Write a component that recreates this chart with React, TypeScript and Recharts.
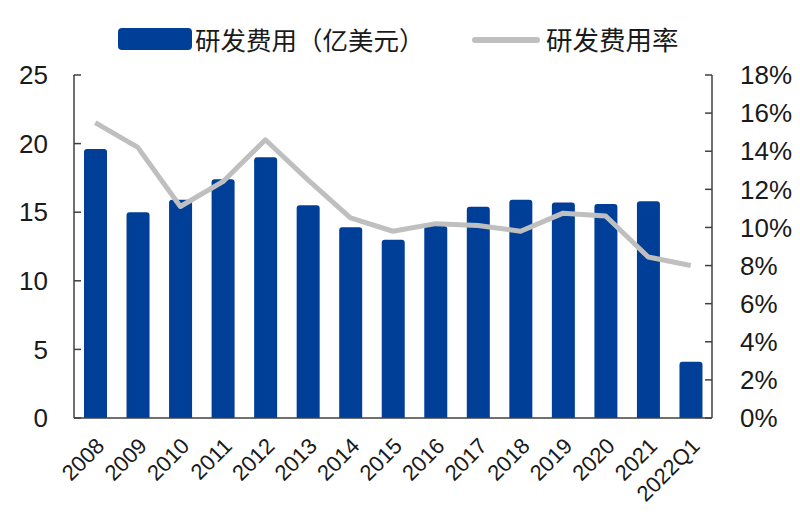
import React from 'react';
import { ComposedChart, Bar, Line, XAxis, YAxis } from 'recharts';

const categories = ['2008', '2009', '2010', '2011', '2012', '2013', '2014', '2015', '2016', '2017', '2018', '2019', '2020', '2021', '2022Q1'];
const rdExpense = [19.6, 15.0, 15.9, 17.4, 19.0, 15.5, 13.9, 13.0, 14.0, 15.4, 15.9, 15.7, 15.6, 15.8, 4.1];
const rdRatio = [15.5, 14.2, 11.1, 12.4, 14.6, 12.5, 10.5, 9.8, 10.2, 10.1, 9.8, 10.75, 10.6, 8.45, 8.0];
const leftTicks = [0, 5, 10, 15, 20, 25];
const rightTicks = [0, 2, 4, 6, 8, 10, 12, 14, 16, 18];
const dividerTicks = [1, 2, 3, 4, 5, 6, 7, 8, 9, 10, 11, 12, 13, 14];

const barName = '研发费用（亿美元）';
const lineName = '研发费用率';

const BAR_COLOR = '#003F98';
const LINE_COLOR = '#BFBFBF';
const AXIS_COLOR = '#404040';
const TEXT_COLOR = '#1a1a1a';
const NUM_FONT = '"Liberation Sans", Arial, sans-serif';
const CJK_FONT = '"Noto Sans CJK SC", sans-serif';

const data = categories.map((c, i) => ({ name: c, expense: rdExpense[i], ratio: rdRatio[i] }));

const XTick = (props: any) => {
  const { x, y, payload } = props;
  return (
    <g transform={`translate(${x + 5},${y + 24})`}>
      <text x={0} y={0} dy="0.35em" textAnchor="end" transform="rotate(-45)" fontSize={22} fontFamily={NUM_FONT} fill={TEXT_COLOR}>
        {payload.value}
      </text>
    </g>
  );
};

export default function App() {
  return (
    <div style={{ position: 'absolute', left: 0, top: 0, width: 800, height: 516, background: '#fff' }}>
      <div style={{ position: 'absolute', left: 0, top: 0, width: 800, height: 70, pointerEvents: 'none' }}>
        <div style={{ position: 'absolute', left: 118, top: 28, width: 74, height: 22, background: BAR_COLOR, borderRadius: 4 }} />
        <div style={{ position: 'absolute', left: 195, top: 22, fontFamily: CJK_FONT, fontSize: 25.5, lineHeight: '34px', color: TEXT_COLOR, whiteSpace: 'nowrap' }}>{barName}</div>
        <div style={{ position: 'absolute', left: 472, top: 37, width: 68, height: 6, background: LINE_COLOR, borderRadius: 3 }} />
        <div style={{ position: 'absolute', left: 546, top: 22, fontFamily: CJK_FONT, fontSize: 26.5, lineHeight: '34px', color: TEXT_COLOR, whiteSpace: 'nowrap' }}>{lineName}</div>
      </div>
      <ComposedChart width={800} height={516} data={data} margin={{ top: 75, right: 0, bottom: 0, left: 0 }}>
        <XAxis
          xAxisId="divider"
          type="number"
          domain={[0, 15]}
          ticks={dividerTicks}
          allowDataOverflow
          height={0}
          axisLine={false}
          tick={false}
          tickSize={-7}
          tickLine={{ stroke: AXIS_COLOR, strokeWidth: 1.5 }}
        />
        <XAxis
          dataKey="name"
          height={98}
          axisLine={{ stroke: AXIS_COLOR, strokeWidth: 1.5 }}
          tickLine={false}
          tickSize={0}
          tickMargin={0}
          interval={0}
          tick={<XTick />}
        />
        <YAxis
          yAxisId="left"
          orientation="left"
          width={74}
          domain={[0, 25]}
          ticks={leftTicks}
          interval={0}
          axisLine={{ stroke: AXIS_COLOR, strokeWidth: 1.5 }}
          tickLine={{ stroke: AXIS_COLOR, strokeWidth: 1.5 }}
          tickSize={-7}
          tickMargin={33}
          tick={{ fontSize: 26, fontFamily: NUM_FONT, fill: TEXT_COLOR }}
        />
        <YAxis
          yAxisId="right"
          orientation="right"
          width={88}
          domain={[0, 18]}
          ticks={rightTicks}
          interval={0}
          axisLine={{ stroke: AXIS_COLOR, strokeWidth: 1.5 }}
          tickLine={{ stroke: AXIS_COLOR, strokeWidth: 1.5 }}
          tickSize={-7}
          tickMargin={35}
          tickFormatter={(v: number) => `${v}%`}
          tick={{ fontSize: 26, fontFamily: NUM_FONT, fill: TEXT_COLOR }}
        />
        <Bar yAxisId="left" dataKey="expense" name={barName} fill={BAR_COLOR} barSize={23} radius={[3, 3, 0, 0]} isAnimationActive={false} />
        <Line yAxisId="right" dataKey="ratio" name={lineName} stroke={LINE_COLOR} strokeWidth={5} dot={false} activeDot={false} type="linear" strokeLinejoin="round" isAnimationActive={false} />
      </ComposedChart>
    </div>
  );
}
